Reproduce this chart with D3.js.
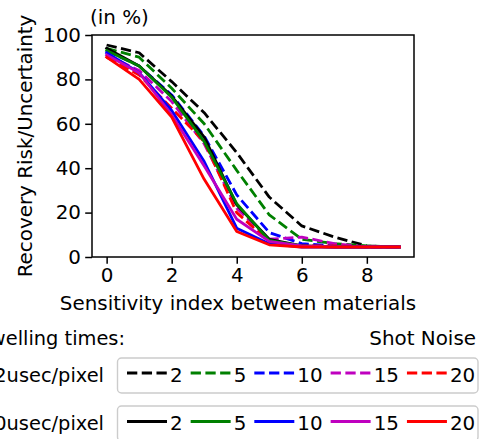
<!DOCTYPE html>
<html>
<head>
<meta charset="utf-8">
<script src="https://cdn.jsdelivr.net/npm/d3@7"></script>
<style>
  html, body { margin: 0; padding: 0; background: #fff; }
  svg { display: block; font-family: "DejaVu Sans", sans-serif; }
</style>
</head>
<body>
<svg id="chart" width="481" height="439"></svg>
<script>
// ---- data ----
const sensitivity = [0, 1, 2, 3, 4, 5, 6, 7, 8, 9];
const noiseLevels = [2, 5, 10, 15, 20];
const noiseColors = ["#000000", "#008000", "#0000ff", "#bf00bf", "#ff0000"];
const xTicks = [0, 2, 4, 6, 8];
const yTicks = [0, 20, 40, 60, 80, 100];

// short dwelling time (dashed)
const dashed2  = [95.5, 92, 79, 65, 47, 27, 14, 9, 5, 4.5];
const dashed5  = [94, 90, 76, 60, 39, 19, 8, 6, 5, 4.5];
const dashed10 = [93, 86, 73, 54.5, 28, 11, 6, 5, 4.5, 4.5];
const dashed15 = [91, 84, 70, 51, 22, 8, 9, 6, 4.5, 4.5];
const dashed20 = [90, 82, 67, 52, 20, 7, 5, 5, 4.5, 4.5];
// long dwelling time (solid)
const solid2  = [94, 86, 72.5, 54, 23.5, 8, 5, 4.5, 4.5, 4.5];
const solid5  = [93, 86, 72, 52, 24, 7.5, 5, 4.5, 4.5, 4.5];
const solid10 = [92, 83, 66, 43, 13, 6, 4.5, 4.5, 4.5, 4.5];
const solid15 = [91, 83, 64, 41, 17, 7, 5, 4.5, 4.5, 4.5];
const solid20 = [90, 80, 63, 35, 11.5, 5.5, 4.5, 4.5, 4.5, 4.5];

const dashedSeries = [dashed2, dashed5, dashed10, dashed15, dashed20];
const solidSeries  = [solid2, solid5, solid10, solid15, solid20];

const rowLabels = ["2usec/pixel", "20usec/pixel"];
const titleText = "(in %)";
const yLabel = "Recovery Risk/Uncertainty";
const xLabel = "Sensitivity index between materials";
const legendTitleLeft = "Dwelling times:";
const legendTitleRight = "Shot Noise";

// ---- layout ----
const svg = d3.select("#chart");
const FS = 19.9;
const LFS = 19.4;
const plot = { left: 92, right: 414, top: 35, bottom: 257 };
const x = d3.scaleLinear().domain([-0.45, 9.45]).range([plot.left, plot.right]);
const y = d3.scaleLinear().domain([0, 100]).range([plot.bottom, plot.top]);

const LW = 2.78;
const dashPattern = (3.7 * LW).toFixed(2) + "," + (1.6 * LW).toFixed(2);

const line = d3.line().x((d, i) => x(sensitivity[i])).y(d => y(d));

const g = svg.append("g");
dashedSeries.forEach((s, i) => {
  g.append("path").datum(s).attr("d", line)
    .attr("fill", "none").attr("stroke", noiseColors[i])
    .attr("stroke-width", LW).attr("stroke-dasharray", dashPattern)
    .attr("stroke-linejoin", "round");
});
solidSeries.forEach((s, i) => {
  g.append("path").datum(s).attr("d", line)
    .attr("fill", "none").attr("stroke", noiseColors[i])
    .attr("stroke-width", LW).attr("stroke-linecap", "square")
    .attr("stroke-linejoin", "round");
});

// axes
const xAxis = d3.axisBottom(x).tickValues(xTicks).tickSize(6.8).tickPadding(4).tickFormat(d3.format("d"));
const yAxis = d3.axisLeft(y).tickValues(yTicks).tickSize(6.8).tickPadding(4).tickFormat(d3.format("d"));

const gx = svg.append("g").attr("transform", `translate(0,${plot.bottom})`).call(xAxis);
const gy = svg.append("g").attr("transform", `translate(${plot.left},0)`).call(yAxis);
[gx, gy].forEach(a => {
  a.select(".domain").remove();
  a.selectAll(".tick line").attr("stroke", "#000").attr("stroke-width", 1.5);
  a.selectAll(".tick text").attr("fill", "#000").style("font-size", FS + "px")
    .style("font-family", "DejaVu Sans");
});
gx.selectAll(".tick text").attr("dy", "0.71em").attr("y", 10.5);
gy.selectAll(".tick text").attr("x", -11);

// frame
svg.append("rect")
  .attr("x", plot.left).attr("y", plot.top)
  .attr("width", plot.right - plot.left).attr("height", plot.bottom - plot.top)
  .attr("fill", "none").attr("stroke", "#000").attr("stroke-width", 1.5);

// texts
svg.append("text").attr("x", 90).attr("y", 24).style("font-size", FS + "px").text(titleText);
svg.append("text").attr("transform", `translate(32,${(plot.top + plot.bottom) / 2}) rotate(-90)`)
  .attr("text-anchor", "middle").style("font-size", FS + "px").text(yLabel);
svg.append("text").attr("x", 238).attr("y", 310).attr("text-anchor", "middle")
  .style("font-size", FS + "px").text(xLabel);

svg.append("text").attr("x", 125).attr("y", 345).attr("text-anchor", "end")
  .style("font-size", LFS + "px").text(legendTitleLeft);
svg.append("text").attr("x", 476).attr("y", 345).attr("text-anchor", "end")
  .style("font-size", FS + "px").text(legendTitleRight);

// legends
const rows = [
  { label: rowLabels[0], dash: dashPattern, boxTop: 358, lineY: 373, base: 381.5 },
  { label: rowLabels[1], dash: null, boxTop: 406, lineY: 421.5, base: 430 }
];
rows.forEach(r => {
  svg.append("rect").attr("x", 117.5).attr("y", r.boxTop)
    .attr("width", 360.5).attr("height", 35).attr("rx", 4)
    .attr("fill", "#fff").attr("fill-opacity", 0.8)
    .attr("stroke", "#cccccc").attr("stroke-width", 1.4);
  svg.append("text").attr("x", 104).attr("y", r.base).attr("text-anchor", "end")
    .style("font-size", LFS + "px").text(r.label);
  let cx = 127;
  noiseLevels.forEach((n, i) => {
    const h = svg.append("line").attr("x1", cx).attr("x2", cx + 40)
      .attr("y1", r.lineY).attr("y2", r.lineY)
      .attr("stroke", noiseColors[i]).attr("stroke-width", LW)
      .attr("stroke-linecap", "butt");
    if (r.dash) h.attr("stroke-dasharray", r.dash);
    const t = svg.append("text").attr("x", cx + 43).attr("y", r.base)
      .style("font-size", FS + "px").text(String(n));
    const w = t.node().getComputedTextLength();
    cx = cx + 43 + w + 8;
  });
});
</script>
</body>
</html>
